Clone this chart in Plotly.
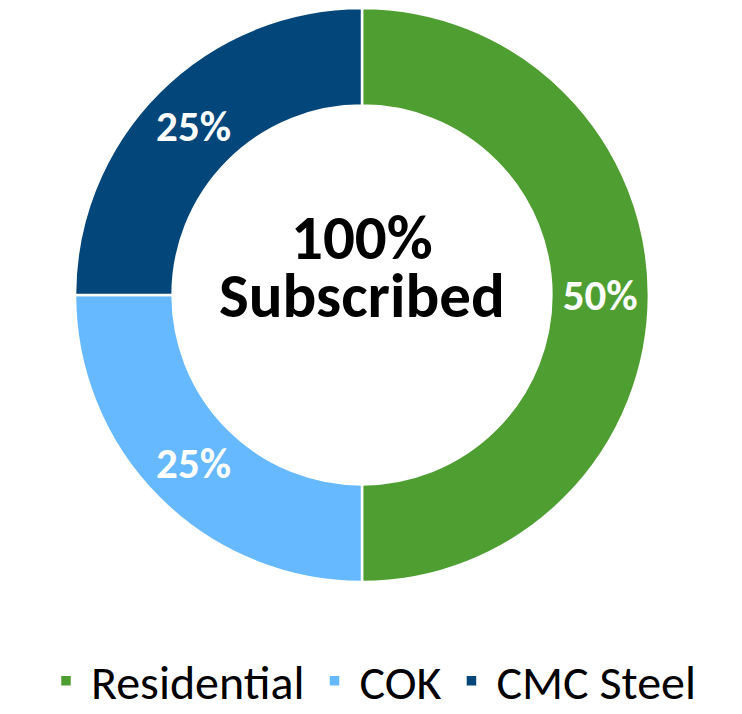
import plotly.graph_objects as go

labels = ["Residential", "COK", "CMC Steel"]
values = [50, 25, 25]
colors = ["#4F9E31", "#66B9FF", "#03467A"]
center_lines = ["100%", "Subscribed"]

FONT = "Calibri, Carlito, 'Open Sans', sans-serif"

fig = go.Figure()
fig.add_trace(go.Pie(
    labels=labels,
    values=values,
    hole=0.66,
    sort=False,
    direction="clockwise",
    rotation=0,
    marker=dict(colors=colors, line=dict(color="white", width=2.5)),
    texttemplate="%{percent:.0%}",
    textposition="inside",
    insidetextorientation="horizontal",
    textfont=dict(family=FONT, size=43, color="white", weight="bold"),
    domain=dict(x=[75/742, 649/742], y=[1-583/714, 1-7/714]),
    hoverinfo="label+percent",
))

cx = (75/742 + 649/742) / 2
for txt, yy in zip(center_lines, [237, 295]):
    fig.add_annotation(text="<b>%s</b>" % txt, x=cx, y=1-yy/714,
                       xref="paper", yref="paper", showarrow=False,
                       font=dict(family=FONT, size=63, color="black"),
                       height=56, valign="middle",
                       xanchor="center", yanchor="middle")

fig.update_layout(
    width=742, height=714,
    margin=dict(l=0, r=0, t=0, b=0, autoexpand=False),
    paper_bgcolor="white",
    plot_bgcolor="white",
    showlegend=True,
    legend=dict(orientation="h", x=0.5, xanchor="center", y=-5/714, yanchor="bottom",
                font=dict(family=FONT, size=48, color="black"),
                itemwidth=40, traceorder="normal"),
)

fig.write_html("out.html")
